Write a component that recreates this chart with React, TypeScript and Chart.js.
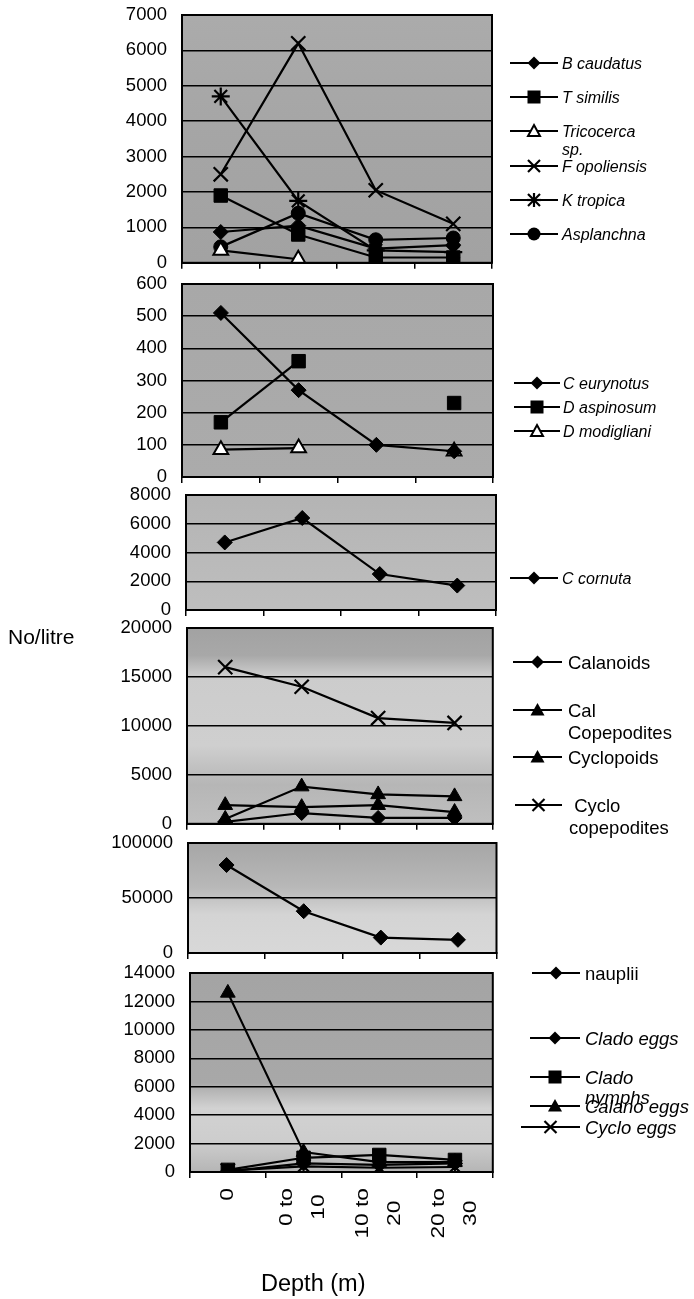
import React, { useEffect, useRef } from "react";
import { Chart, registerables } from "chart.js";
Chart.register(...registerables);

// ---------- data ----------
const categories = ["0", "0 to 10", "10 to 20", "20 to 30"];
const depthTickLabels = [["0"], ["0 to", "10"], ["10 to", "20"], ["20 to", "30"]];

// Panel 1 – rotifers
const bCaudatus = [870, 1050, 400, 500];
const tSimilis = [1900, 800, 150, 150];
const tricocerca = [350, 100, null, null];
const fOpoliensis = [2500, 6200, 2050, 1100];
const kTropica = [4700, 1750, 350, 300];
const asplanchna = [450, 1400, 650, 700];

// Panel 2 – cladocerans
const cEurynotus = [510, 270, 100, 80];
const dAspinosum = [170, 360, null, 230];
const dModigliani = [85, 90, null, 80];

// Panel 3
const cCornuta = [4700, 6400, 2500, 1700];

// Panel 4 – copepods
const calanoids = [200, 1100, 600, 600];
const calCopepodites = [1900, 1700, 1900, 1200];
const cyclopoids = [500, 3800, 3000, 2800];
const cycloCopepodites = [16000, 14000, 10800, 10300];

// Panel 5
const nauplii = [80000, 38000, 14000, 12000];

// Panel 6 – eggs
const cladoEggs = [50, 600, 500, 600];
const cladoNymphs = [150, 1000, 1200, 850];
const calanoEggs = [12600, 1400, 700, 700];
const cycloEggs = [100, 400, 300, 350];

// y-axis ranges
const yMax = [7000, 600, 8000, 20000, 100000, 14000];
const yStep = [1000, 100, 2000, 5000, 50000, 2000];

// ---------- styling ----------
const FONT = '"Liberation Sans", Arial, sans-serif';
const CW = 505;
const PAD_TOP = 14;

type DS = { label: string; data: (number | null)[]; style: string; open?: boolean };

const mk = (label: string, data: (number | null)[], style: string, open = false): DS => ({ label, data, style, open });

const panels = [
  {
    top: 15, bottom: 263, left: 182, right: 492,
    bg: [[0, "#ababab"], [0.5, "#a5a5a5"], [1, "#a2a2a2"]],
    datasets: [
      mk("B caudatus", bCaudatus, "rectRot"),
      mk("T similis", tSimilis, "rect"),
      mk("Tricocerca sp.", tricocerca, "triangle", true),
      mk("F opoliensis", fOpoliensis, "crossRot"),
      mk("K tropica", kTropica, "star"),
      mk("Asplanchna", asplanchna, "circle"),
    ],
  },
  {
    top: 284, bottom: 477, left: 182, right: 493,
    bg: [[0, "#a8a8a8"], [1, "#ababab"]],
    datasets: [
      mk("C eurynotus", cEurynotus, "rectRot"),
      mk("D aspinosum", dAspinosum, "rect"),
      mk("D modigliani", dModigliani, "triangle", true),
    ],
  },
  {
    top: 495, bottom: 610, left: 186, right: 496,
    bg: [[0, "#b4b4b4"], [1, "#bebebe"]],
    datasets: [mk("C cornuta", cCornuta, "rectRot")],
  },
  {
    top: 628, bottom: 824, left: 187, right: 497,
    bg: [[0, "#a2a2a2"], [0.14, "#a8a8a8"], [0.24, "#cccccc"], [0.6, "#cfcfcf"], [0.8, "#b6b6b6"], [1, "#bfbfbf"]],
    datasets: [
      mk("Calanoids", calanoids, "rectRot"),
      mk("Cal Copepodites", calCopepodites, "triangle"),
      mk("Cyclopoids", cyclopoids, "triangle"),
      mk("Cyclo copepodites", cycloCopepodites, "crossRot"),
    ],
  },
  {
    top: 843, bottom: 953, left: 188, right: 497,
    bg: [[0, "#a6a6a6"], [0.4, "#b8b8b8"], [0.65, "#d4d4d4"], [1, "#d8d8d8"]],
    datasets: [mk("nauplii", nauplii, "rectRot")],
  },
  {
    top: 973, bottom: 1172, left: 190, right: 498,
    bg: [[0, "#a4a4a4"], [0.55, "#a8a8a8"], [0.68, "#d2d2d2"], [0.85, "#cdcdcd"], [1, "#b5b5b5"]],
    datasets: [
      mk("Clado eggs", cladoEggs, "rectRot"),
      mk("Clado nymphs", cladoNymphs, "rect"),
      mk("Calano eggs", calanoEggs, "triangle"),
      mk("Cyclo eggs", cycloEggs, "crossRot"),
    ],
    xLabels: true,
  },
];

const radiusFor = (s: string) =>
  s === "rect" ? 9.5 : s === "rectRot" ? 7.5 : s === "triangle" ? 8.5 : s === "crossRot" ? 10 : s === "star" ? 9 : 7;

const bgPlugin = {
  id: "bgFill",
  beforeDraw(chart: any) {
    const stops = chart.options.plugins.bgFill.stops as [number, string][];
    const { ctx, chartArea: a } = chart;
    const g = ctx.createLinearGradient(0, a.top, 0, a.bottom);
    stops.forEach(([o, c]) => g.addColorStop(o, c));
    ctx.save();
    ctx.fillStyle = g;
    ctx.fillRect(a.left, a.top, a.width, a.height);
    ctx.restore();
  },
  afterDraw(chart: any) {
    const { ctx, chartArea: a } = chart;
    ctx.save();
    ctx.strokeStyle = "#000";
    ctx.lineWidth = 2;
    ctx.strokeRect(a.left, a.top, a.width, a.height);
    ctx.restore();
  },
};

const xLabelPlugin = {
  id: "xLabels",
  afterDraw(chart: any) {
    if (!chart.options.plugins.xLabels.show) return;
    const { ctx, chartArea } = chart;
    const xs = chart.scales.x;
    const stretch = 1.3;
    ctx.save();
    ctx.font = `17.5px ${FONT}`;
    ctx.fillStyle = "#000";
    ctx.textAlign = "center";
    ctx.textBaseline = "middle";
    depthTickLabels.forEach((lines, i) => {
      const px = xs.getPixelForValue(i);
      const W = Math.max(...lines.map((l) => ctx.measureText(l).width * stretch));
      const cy = chartArea.bottom + 16 + W / 2;
      lines.forEach((l, j) => {
        const cx = px + (j - (lines.length - 1) / 2) * 32;
        ctx.save();
        ctx.translate(cx, cy);
        ctx.rotate(-Math.PI / 2);
        ctx.scale(stretch, 1);
        ctx.fillText(l, 0, 0);
        ctx.restore();
      });
    });
    ctx.restore();
  },
};

function Panel({ idx }: { idx: number }) {
  const p: any = panels[idx];
  const ref = useRef<HTMLCanvasElement>(null);
  const bottomExtra = p.xLabels ? 110 : 12;
  const H = p.bottom - p.top + PAD_TOP + bottomExtra;
  useEffect(() => {
    const chart = new Chart(ref.current as HTMLCanvasElement, {
      type: "line",
      data: {
        labels: categories,
        datasets: p.datasets.map((d: DS) => ({
          label: d.label,
          data: d.data,
          borderColor: "#000",
          borderWidth: 2.2,
          pointStyle: d.style,
          pointRadius: radiusFor(d.style),
          pointBackgroundColor: d.open ? "#fff" : "#000",
          pointBorderColor: "#000",
          pointBorderWidth: d.open ? 2 : d.style === "crossRot" || d.style === "star" ? 2.2 : 1,
          spanGaps: false,
          tension: 0,
        })),
      },
      options: {
        animation: false,
        responsive: false,
        maintainAspectRatio: false,
        layout: { padding: { top: PAD_TOP, right: CW - p.right, left: 0, bottom: 0 } },
        plugins: {
          legend: { display: false },
          tooltip: { enabled: false },
          bgFill: { stops: p.bg },
          xLabels: { show: !!p.xLabels },
        } as any,
        scales: {
          x: {
            type: "category",
            offset: true,
            grid: { offset: true, drawOnChartArea: false, drawTicks: true, tickLength: 6, color: "#000", lineWidth: 1.5 },
            border: { display: true, color: "#000", width: 2 },
            ticks: { display: false },
            afterFit: (s: any) => {
              s.height = bottomExtra;
              s.paddingLeft = 0;
              s.paddingRight = 0;
              s.paddingTop = 0;
              s.paddingBottom = 0;
            },
          },
          y: {
            min: 0,
            max: yMax[idx],
            ticks: {
              stepSize: yStep[idx],
              color: "#000",
              padding: 15,
              font: { family: FONT, size: 18.5 },
              callback: (v: any) => String(v),
            },
            grid: { color: "#000", lineWidth: 1.5, drawTicks: false },
            border: { display: true, color: "#000", width: 2 },
            afterFit: (s: any) => {
              s.width = p.left;
              s.paddingTop = 0;
              s.paddingBottom = 0;
              s.paddingLeft = 0;
              s.paddingRight = 0;
            },
          },
        },
      } as any,
      plugins: [bgPlugin, xLabelPlugin],
    });
    return () => chart.destroy();
  }, []);
  return (
    <canvas
      ref={ref}
      width={CW}
      height={H}
      style={{ position: "absolute", left: 0, top: p.top - PAD_TOP, width: CW, height: H }}
    />
  );
}

// ---------- legend ----------
type LItem = { y: number; lines: string[]; marker: string; x1: number; x2: number; tx: number; size: number; italic: boolean; gap?: number };

const legendItems: LItem[] = [
  { y: 63, lines: ["B caudatus"], marker: "diamond", x1: 510, x2: 558, tx: 562, size: 16, italic: true },
  { y: 97, lines: ["T similis"], marker: "square", x1: 510, x2: 558, tx: 562, size: 16, italic: true },
  { y: 131, lines: ["Tricocerca", "sp."], marker: "openTriangle", x1: 510, x2: 558, tx: 562, size: 16, italic: true, gap: 18 },
  { y: 166, lines: ["F opoliensis"], marker: "x", x1: 510, x2: 558, tx: 562, size: 16, italic: true },
  { y: 200, lines: ["K tropica"], marker: "star", x1: 510, x2: 558, tx: 562, size: 16, italic: true },
  { y: 234, lines: ["Asplanchna"], marker: "circle", x1: 510, x2: 558, tx: 562, size: 16, italic: true },

  { y: 383, lines: ["C eurynotus"], marker: "diamond", x1: 514, x2: 560, tx: 563, size: 16, italic: true },
  { y: 407, lines: ["D aspinosum"], marker: "square", x1: 514, x2: 560, tx: 563, size: 16, italic: true },
  { y: 431, lines: ["D modigliani"], marker: "openTriangle", x1: 514, x2: 560, tx: 563, size: 16, italic: true },

  { y: 578, lines: ["C cornuta"], marker: "diamond", x1: 510, x2: 558, tx: 562, size: 16, italic: true },

  { y: 662, lines: ["Calanoids"], marker: "diamond", x1: 513, x2: 562, tx: 568, size: 18.5, italic: false },
  { y: 710, lines: ["Cal", "Copepodites"], marker: "triangle", x1: 513, x2: 562, tx: 568, size: 18.5, italic: false, gap: 22 },
  { y: 757, lines: ["Cyclopoids"], marker: "triangle", x1: 513, x2: 562, tx: 568, size: 18.5, italic: false },
  { y: 805, lines: [" Cyclo", "copepodites"], marker: "x", x1: 515, x2: 562, tx: 569, size: 18.5, italic: false, gap: 22 },

  { y: 973, lines: ["nauplii"], marker: "diamond", x1: 532, x2: 580, tx: 585, size: 18.5, italic: false },
  { y: 1038, lines: ["Clado eggs"], marker: "diamond", x1: 530, x2: 580, tx: 585, size: 18.5, italic: true },
  { y: 1077, lines: ["Clado", "nymphs"], marker: "square", x1: 530, x2: 580, tx: 585, size: 18.5, italic: true, gap: 20 },
  { y: 1106, lines: ["Calano eggs"], marker: "triangle", x1: 530, x2: 580, tx: 585, size: 18.5, italic: true },
  { y: 1127, lines: ["Cyclo eggs"], marker: "x", x1: 521, x2: 580, tx: 585, size: 18.5, italic: true },
];

function Marker({ kind, cx, cy }: { kind: string; cx: number; cy: number }) {
  switch (kind) {
    case "diamond":
      return <polygon points={`${cx},${cy - 6.5} ${cx + 6.5},${cy} ${cx},${cy + 6.5} ${cx - 6.5},${cy}`} fill="#000" />;
    case "square":
      return <rect x={cx - 6.5} y={cy - 6.5} width={13} height={13} fill="#000" />;
    case "triangle":
      return <polygon points={`${cx},${cy - 7} ${cx + 7},${cy + 5.5} ${cx - 7},${cy + 5.5}`} fill="#000" />;
    case "openTriangle":
      return <polygon points={`${cx},${cy - 6} ${cx + 6},${cy + 5} ${cx - 6},${cy + 5}`} fill="#fff" stroke="#000" strokeWidth={2} />;
    case "x":
      return (
        <g stroke="#000" strokeWidth={2.2}>
          <line x1={cx - 6} y1={cy - 6} x2={cx + 6} y2={cy + 6} />
          <line x1={cx - 6} y1={cy + 6} x2={cx + 6} y2={cy - 6} />
        </g>
      );
    case "star":
      return (
        <g stroke="#000" strokeWidth={2.2}>
          <line x1={cx - 6} y1={cy - 6} x2={cx + 6} y2={cy + 6} />
          <line x1={cx - 6} y1={cy + 6} x2={cx + 6} y2={cy - 6} />
          <line x1={cx} y1={cy - 7} x2={cx} y2={cy + 7} />
          <line x1={cx - 7} y1={cy} x2={cx + 7} y2={cy} />
        </g>
      );
    default:
      return <circle cx={cx} cy={cy} r={6.5} fill="#000" />;
  }
}

function Legend() {
  return (
    <svg width={694} height={1299} style={{ position: "absolute", left: 0, top: 0, pointerEvents: "none" }}>
      {legendItems.map((it, i) => {
        const cx = (it.x1 + it.x2) / 2;
        const gap = it.gap ?? 20;
        return (
          <g key={i}>
            <line x1={it.x1} y1={it.y} x2={it.x2} y2={it.y} stroke="#000" strokeWidth={2} />
            <Marker kind={it.marker} cx={cx} cy={it.y} />
            {it.lines.map((l, j) => (
              <text
                key={j}
                x={it.tx}
                y={it.y + j * gap}
                dominantBaseline="central"
                fontFamily={FONT}
                fontSize={it.size}
                fontStyle={it.italic ? "italic" : "normal"}
                fill="#000"
                style={{ whiteSpace: "pre" }}
              >
                {l}
              </text>
            ))}
          </g>
        );
      })}
    </svg>
  );
}

export default function App() {
  return (
    <div style={{ position: "absolute", left: 0, top: 0, width: 694, height: 1299, background: "#fff", fontFamily: FONT }}>
      {panels.map((_, i) => (
        <Panel key={i} idx={i} />
      ))}
      <Legend />
      <div style={{ position: "absolute", left: 8, top: 623, fontSize: 21, lineHeight: "28px", color: "#000" }}>No/litre</div>
      <div style={{ position: "absolute", left: 261, top: 1268, fontSize: 23.5, lineHeight: "30px", color: "#000" }}>Depth (m)</div>
    </div>
  );
}
